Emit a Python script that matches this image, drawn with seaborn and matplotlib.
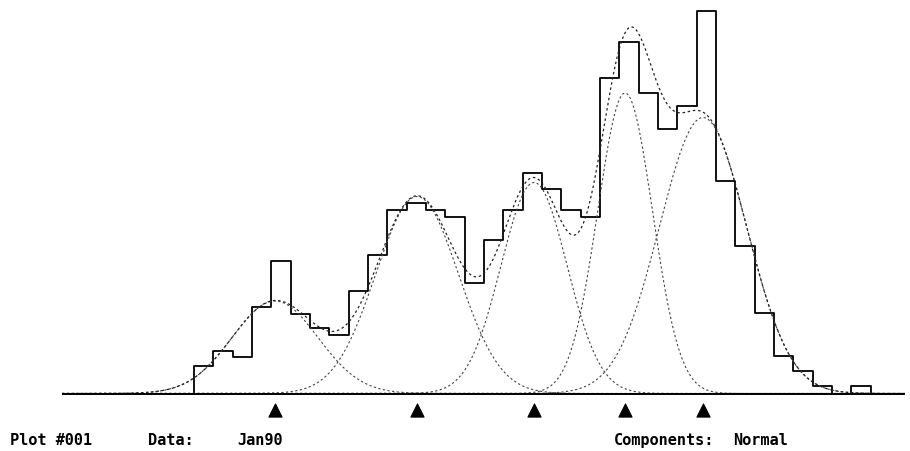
import numpy as np
import pandas as pd
import matplotlib
matplotlib.use("Agg")
import matplotlib.pyplot as plt
import seaborn as sns

# ------------------ data ------------------
# histogram: 35 bins of width 1, left edge of first bin at 0
n_bins = 35
freq = [27.8, 42.8, 36.2, 86.8, 132.2, 79.5, 65.5, 58.8, 102.2, 138.8,
        183.8, 190.5, 183.8, 176.2, 110.2, 153.8, 183.8, 220.5, 204.5, 183.8,
        176.2, 315.2, 351.8, 300.5, 264.5, 287.5, 382.2, 213.0, 147.2, 80.5,
        37.2, 22.8, 7.8, 0.0, 7.8]

# fitted normal components
comp_mean = [4.19, 11.54, 17.59, 22.30, 26.33]
comp_sd = [2.22, 2.14, 1.71, 1.42, 2.25]
comp_peak = [92.5, 197.0, 211.0, 300.5, 276.0]

labels = {"plot": "Plot #001", "data": "Data:", "name": "Jan90",
          "comp": "Components:", "dist": "Normal"}

# ------------------ figure ------------------
W, H = 910, 452
sns.set_style("white")
fig = plt.figure(figsize=(W / 100, H / 100), dpi=100)
ax = fig.add_axes([62 / W, 0, (905 - 62) / W, 1])
ax.set_xlim(-6.83, 36.78)
ax.set_ylim(-57.5, 394.5)

# one empty bin on each side so the outline drops to the baseline at both ends
padded = [0.0] + freq + [0.0]
hist_df = pd.DataFrame({"center": np.arange(-1, n_bins + 1) + 0.5, "freq": padded})
sns.histplot(data=hist_df, x="center", weights="freq", bins=n_bins + 2,
             binrange=(-1, n_bins + 1), element="step", fill=False,
             color="black", linewidth=1.3, ax=ax)

xs = np.linspace(-6.83, 36.78, 1500)
total = np.zeros_like(xs)
dots = (0, (2, 2.2))
for m, s, p in zip(comp_mean, comp_sd, comp_peak):
    y = p * np.exp(-0.5 * ((xs - m) / s) ** 2)
    total += y
    sns.lineplot(x=xs, y=y, color="#444444", linewidth=0.8, linestyle=dots, ax=ax)
sns.lineplot(x=xs, y=total, color="#222222", linewidth=0.9, linestyle=dots, ax=ax)

# baseline and mean markers
ax.axhline(0, color="black", linewidth=1.4)
sns.scatterplot(x=comp_mean, y=[-16.5] * len(comp_mean), marker="^", s=90,
                color="black", edgecolor="black", ax=ax, legend=False)
ax.axis("off")

font = dict(family="DejaVu Sans Mono", fontsize=11, fontweight="bold",
            va="center", color="black")
ty = 1 - 441 / H
fig.text(10 / W, ty, labels["plot"], **font)
fig.text(148 / W, ty, labels["data"], **font)
fig.text(237 / W, ty, labels["name"], **font)
fig.text(614 / W, ty, labels["comp"], **font)
fig.text(733 / W, ty, labels["dist"], **font)

fig.savefig("out.png", dpi=100, facecolor="white")
